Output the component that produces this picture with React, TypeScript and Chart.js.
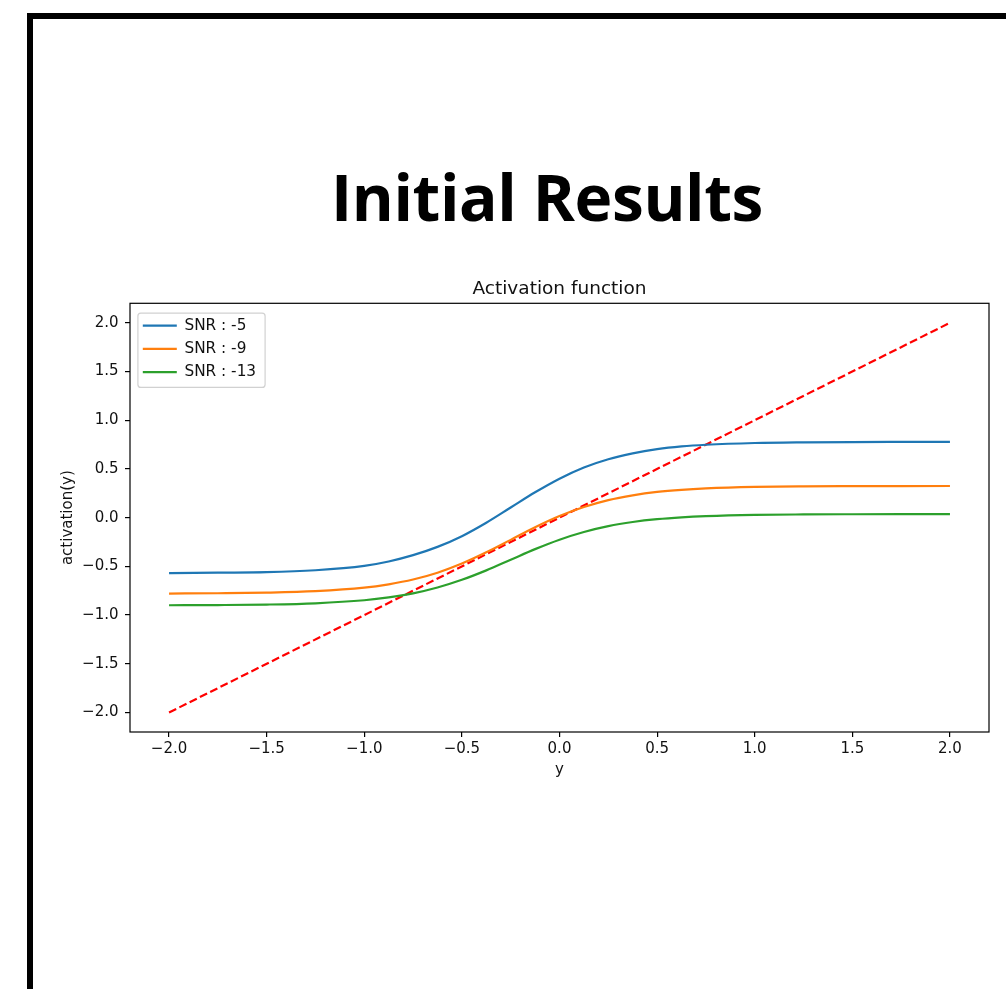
import React, { useEffect, useRef } from "react";
import { Chart, registerables } from "chart.js";

Chart.register(...registerables);

// ---- data ----
const xs = [-2, -1.75, -1.5, -1.25, -1, -0.875, -0.75, -0.625, -0.5, -0.375, -0.25, -0.125, 0, 0.125, 0.25, 0.375, 0.5, 0.625, 0.75, 1, 1.25, 1.5, 1.75, 2];
const snrMinus5 = [-0.57, -0.565, -0.56, -0.54, -0.495, -0.45, -0.385, -0.3, -0.19, -0.052, 0.104, 0.26, 0.4, 0.515, 0.6, 0.66, 0.703, 0.731, 0.748, 0.766, 0.773, 0.776, 0.777, 0.778];
const snrMinus9 = [-0.779, -0.776, -0.77, -0.755, -0.719, -0.684, -0.635, -0.565, -0.471, -0.356, -0.228, -0.099, 0.016, 0.109, 0.18, 0.229, 0.264, 0.286, 0.3, 0.315, 0.321, 0.323, 0.324, 0.325];
const snrMinus13 = [-0.899, -0.897, -0.892, -0.879, -0.848, -0.819, -0.777, -0.717, -0.638, -0.541, -0.432, -0.323, -0.226, -0.147, -0.087, -0.045, -0.016, 0.003, 0.015, 0.028, 0.033, 0.035, 0.036, 0.036];
const identityX = [-2, 2];
const identityY = [-2, 2];
const seriesLabels = ["SNR : -5", "SNR : -9", "SNR : -13"];
const xTicks = [-2, -1.5, -1, -0.5, 0, 0.5, 1, 1.5, 2];
const yTicks = [-2, -1.5, -1, -0.5, 0, 0.5, 1, 1.5, 2];

const FONT = "'DejaVu Sans', sans-serif";
const fmt = (v: number) => (v < 0 ? "\u2212" : "") + Math.abs(v).toFixed(1);

const LEG_PAD = 8.0;
const LEG_BOX = 34;
const LEG_FONT = 15.3;

const framePlugin = {
  id: "frame",
  afterLayout(chart: any) {
    const lg = chart.legend;
    const ca = chart.chartArea;
    if (lg) {
      lg.left = ca.left + 4.8;
      lg.top = ca.top + 6.6;
    }
    const tb = chart.titleBlock;
    if (tb) {
      tb.left = ca.left;
      tb.right = ca.right;
    }
  },
  afterDatasetsDraw(chart: any) {
    const { ctx, chartArea } = chart;
    ctx.save();
    // legend frame
    const lg = chart.legend;
    if (lg) {
      ctx.font = LEG_FONT + "px " + FONT;
      let maxW = 0;
      seriesLabels.forEach((t) => {
        maxW = Math.max(maxW, ctx.measureText(t).width);
      });
      const rowTop = lg.top + LEG_PAD;
      const x0 = lg.left + LEG_PAD - 4.9;
      const y0 = rowTop - 4.8;
      const x1 = lg.left + LEG_PAD + LEG_BOX + LEG_FONT / 2 + maxW + 9;
      const y1 = rowTop + 3 * LEG_FONT + 2 * LEG_PAD + 7.6;
      ctx.beginPath();
      ctx.strokeStyle = "rgba(204,204,204,0.9)";
      ctx.lineWidth = 1.2;
      const r = 3;
      ctx.moveTo(x0 + r, y0);
      ctx.lineTo(x1 - r, y0);
      ctx.arcTo(x1, y0, x1, y0 + r, r);
      ctx.lineTo(x1, y1 - r);
      ctx.arcTo(x1, y1, x1 - r, y1, r);
      ctx.lineTo(x0 + r, y1);
      ctx.arcTo(x0, y1, x0, y1 - r, r);
      ctx.lineTo(x0, y0 + r);
      ctx.arcTo(x0, y0, x0 + r, y0, r);
      ctx.closePath();
      ctx.stroke();
    }
    // axes frame
    ctx.strokeStyle = "#000";
    ctx.lineWidth = 1.2;
    ctx.strokeRect(chartArea.left, chartArea.top, chartArea.right - chartArea.left, chartArea.bottom - chartArea.top);
    ctx.restore();
  },
};

export default function App() {
  const ref = useRef<HTMLCanvasElement | null>(null);

  useEffect(() => {
    if (!ref.current) return;
    const colors = ["#1f77b4", "#ff7f0e", "#2ca02c"];
    const series = [snrMinus5, snrMinus9, snrMinus13];
    const datasets: any[] = series.map((s, i) => ({
      label: seriesLabels[i],
      data: xs.map((x, j) => ({ x, y: s[j] })),
      borderColor: colors[i],
      backgroundColor: colors[i],
      borderWidth: 2.2,
      pointRadius: 0,
      cubicInterpolationMode: "monotone",
      fill: false,
    }));
    datasets.push({
      label: "identity",
      data: identityX.map((x, j) => ({ x, y: identityY[j] })),
      borderColor: "#ff0000",
      backgroundColor: "#ff0000",
      borderWidth: 2.2,
      borderDash: [8, 3.5],
      pointRadius: 0,
      fill: false,
    });

    const axisCommon = (tickPadding: number) => ({
      type: "linear" as const,
      min: -2.2,
      max: 2.2,
      border: { display: false },
      grid: { drawOnChartArea: false, drawTicks: true, tickLength: 5, color: "#000", lineWidth: 1.2 },
      ticks: {
        padding: tickPadding,
        font: { size: 15, family: FONT },
        color: "#111",
        autoSkip: false,
        maxRotation: 0,
        callback: (v: any) => fmt(Number(v)),
      },
    });

    const chart = new Chart(ref.current, {
      type: "line",
      data: { datasets },
      options: {
        responsive: false,
        maintainAspectRatio: false,
        animation: false,
        devicePixelRatio: 1,
        layout: { padding: { left: 0, right: 17, top: 0, bottom: 206 } },
        plugins: {
          tooltip: { enabled: false },
          title: {
            display: true,
            text: "Activation function",
            color: "#111",
            font: { size: 18.5, family: FONT, weight: "normal", lineHeight: 1.2 },
            padding: { top: 277.9, bottom: 3.2 },
          },
          legend: {
            display: true,
            position: "chartArea",
            align: "start",
            labels: {
              usePointStyle: true,
              pointStyle: "line",
              pointStyleWidth: LEG_BOX,
              padding: LEG_PAD,
              color: "#111",
              font: { size: LEG_FONT, family: FONT },
              generateLabels: (c: any) =>
                c.data.datasets.slice(0, 3).map((ds: any, i: number) => ({
                  text: ds.label,
                  strokeStyle: ds.borderColor,
                  fillStyle: ds.borderColor,
                  lineWidth: 2.2,
                  pointStyle: "line",
                  hidden: false,
                  datasetIndex: i,
                  fontColor: "#111",
                })),
            },
          },
        },
        scales: {
          x: {
            ...axisCommon(3.5),
            position: "bottom",
            afterBuildTicks: (s: any) => {
              s.ticks = xTicks.map((v) => ({ value: v }));
            },
            afterFit: (s: any) => {
              s.height = 51;
            },
            title: { display: true, text: "y", color: "#111", font: { size: 15, family: FONT, lineHeight: 1.2 }, padding: { top: 0, bottom: 4.0 } },
          },
          y: {
            ...axisCommon(6.5),
            position: "left",
            afterBuildTicks: (s: any) => {
              s.ticks = yTicks.map((v) => ({ value: v }));
            },
            afterFit: (s: any) => {
              s.width = 130;
            },
            title: { display: true, text: "activation(y)", color: "#111", font: { size: 15, family: FONT, lineHeight: 1.2 }, padding: { top: 59, bottom: 0 } },
          },
        },
      } as any,
      plugins: [framePlugin],
    });
    return () => chart.destroy();
  }, []);

  return (
    <div style={{ position: "absolute", left: 0, top: 0, width: 1006, height: 989, overflow: "hidden", background: "#fff" }}>
      <div
        style={{
          position: "absolute",
          left: 26.7,
          top: 12.7,
          width: 1400,
          height: 1400,
          borderLeft: "6.5px solid #000",
          borderTop: "6.5px solid #000",
        }}
      />
      <div
        style={{
          position: "absolute",
          left: 547,
          top: 165,
          transform: "translateX(-50%)",
          fontFamily: "'Open Sans', sans-serif",
          fontWeight: 700,
          fontSize: 64,
          lineHeight: "64px",
          letterSpacing: "-0.4px",
          whiteSpace: "nowrap",
          color: "#000",
        }}
      >
        Initial Results
      </div>
      <canvas ref={ref} width={1006} height={989} style={{ position: "absolute", left: 0, top: 0, width: 1006, height: 989 }} />
    </div>
  );
}
